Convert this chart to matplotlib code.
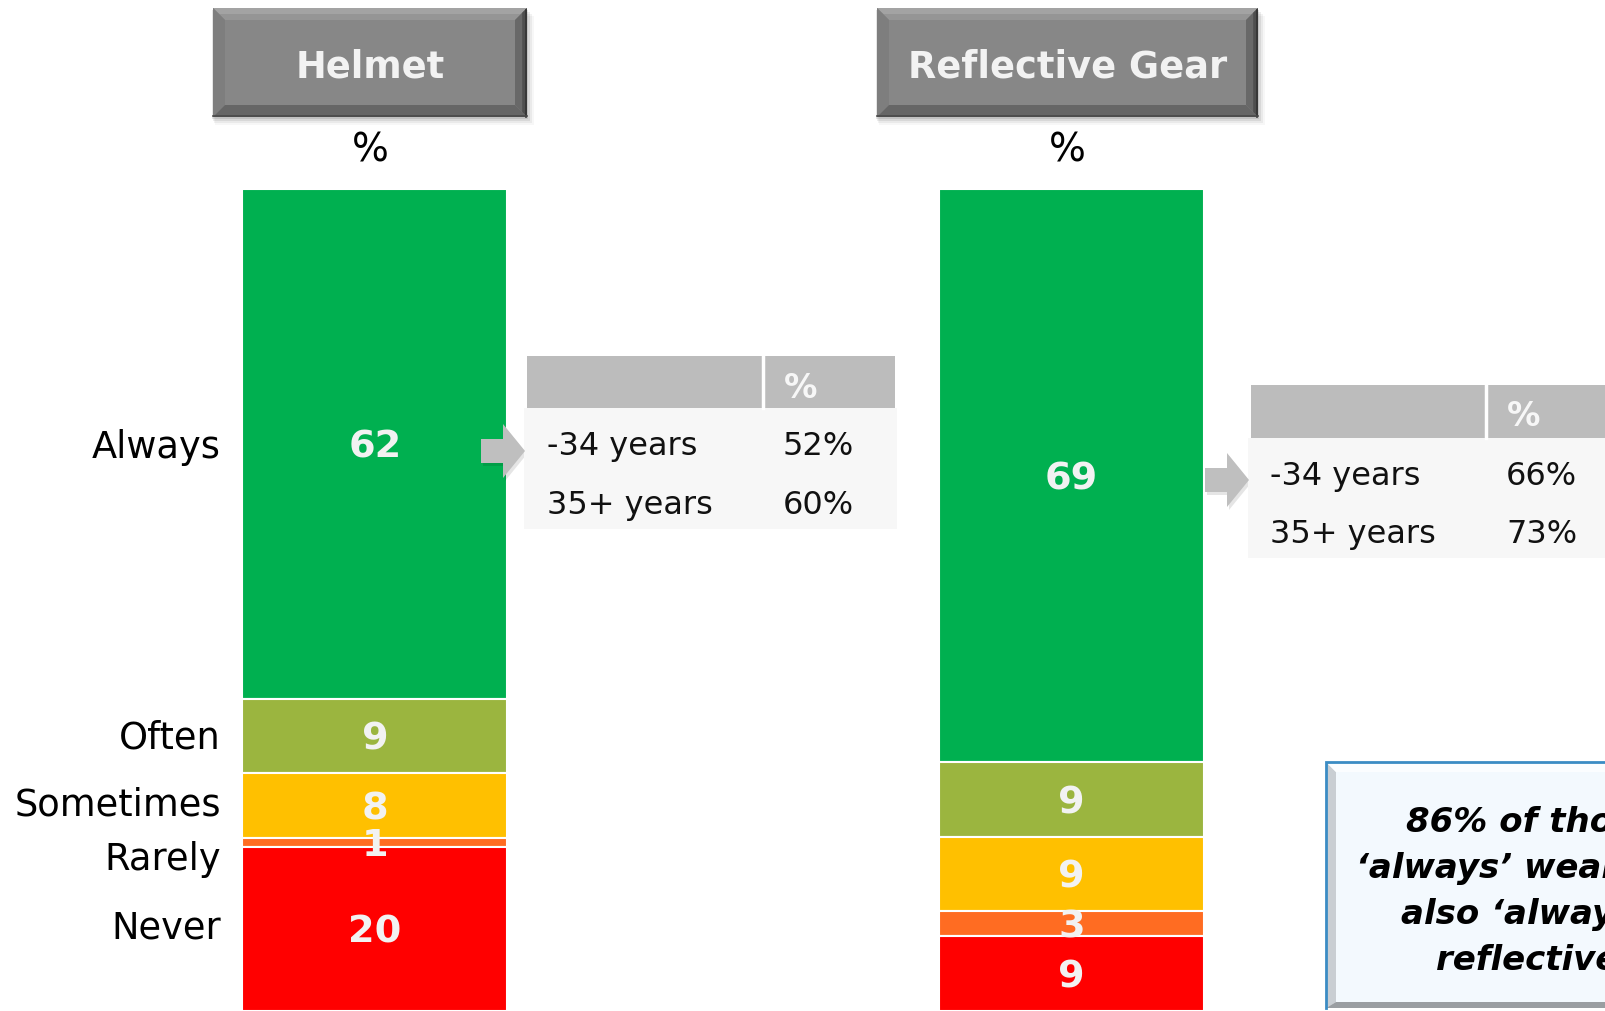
import matplotlib
matplotlib.use('Agg')
import matplotlib.pyplot as plt
from matplotlib.patches import Rectangle, Polygon
from matplotlib.transforms import ScaledTranslation
import numpy as np

# ---------------- data ----------------
categories = ['Always', 'Often', 'Sometimes', 'Rarely', 'Never']
groups = ['Helmet', 'Reflective Gear']
helmet = [62, 9, 8, 1, 20]
reflective = [69, 9, 9, 3, 9]
seg_colors = ['#00B050', '#9BB53F', '#FFC000', '#FF6C22', '#FF0000']

table_rows = ['-34 years', '35+ years']
helmet_age = ['52%', '60%']
reflective_age = ['66%', '73%']
table_header = '%'
callout_lines = ['86% of those who', '\u2018always\u2019 wear a helmet',
                 'also \u2018always\u2019 wear', 'reflective gear']

# ---------------- figure ----------------
W, H = 1606, 1011
DPI = 100
fig = plt.figure(figsize=(W / DPI, H / DPI), dpi=DPI)
fig.patch.set_facecolor('white')

BAR_TOP = 189
bx = fig.add_axes([0, 0, 1, (H - BAR_TOP) / H])
bx.set_xlim(0, W)
bx.set_ylim(0, 100)
bx.axis('off')
bx.patch.set_alpha(0)

# overlay axes in pixel coordinates (y downward) for decorations, on top
ov = fig.add_axes([0, 0, 1, 1])
ov.set_xlim(0, W)
ov.set_ylim(H, 0)
ov.axis('off')
ov.patch.set_alpha(0)

# ---------------- header boxes ----------------
def bevel_box(x0, y0, x1, y1, b=12):
    for i, a in enumerate([0.10, 0.07, 0.05, 0.03]):
        d = 2 + i * 2
        ov.add_patch(Rectangle((x0 - 1 + i, y0 + d), (x1 - x0) + 2 + i, (y1 - y0),
                               fc='#000000', ec='none', alpha=a, zorder=1))
    ov.add_patch(Rectangle((x0, y0), x1 - x0, y1 - y0, fc='#878787', ec='none', zorder=2))
    ov.add_patch(Polygon([(x0, y0), (x1, y0), (x1 - b, y0 + b), (x0 + b, y0 + b)],
                         closed=True, fc='#959595', ec='none', zorder=3))
    ov.add_patch(Polygon([(x0, y0), (x1, y0), (x1 - b * 0.55, y0 + b * 0.5), (x0 + b * 0.55, y0 + b * 0.5)],
                         closed=True, fc='#A3A3A3', ec='none', zorder=3))
    ov.add_patch(Polygon([(x0, y0), (x0 + b, y0 + b), (x0 + b, y1 - b), (x0, y1)],
                         closed=True, fc='#7E7E7E', ec='none', zorder=3))
    ov.add_patch(Polygon([(x1, y0), (x1, y1), (x1 - b, y1 - b), (x1 - b, y0 + b)],
                         closed=True, fc='#686868', ec='none', zorder=3))
    ov.add_patch(Polygon([(x1, y0), (x1, y1), (x1 - b * 0.4, y1 - b * 0.4), (x1 - b * 0.4, y0 + b * 0.4)],
                         closed=True, fc='#4E4E4E', ec='none', zorder=3))
    ov.add_patch(Polygon([(x0, y1), (x1, y1), (x1 - b, y1 - b), (x0 + b, y1 - b)],
                         closed=True, fc='#666666', ec='none', zorder=3))
    ov.plot([x1 - 1, x1 - 1], [y0 + 2, y1], color='#333333', lw=1.2, zorder=4)
    ov.plot([x0, x1], [y1 - 1, y1 - 1], color='#4A4A4A', lw=1.2, zorder=4)

header_boxes = [(213, 8, 527, 117), (877, 8, 1258, 117)]
for name, (x0, y0, x1, y1) in zip(groups, header_boxes):
    bevel_box(x0, y0, x1, y1)
    cx = (x0 + x1) / 2
    ov.text(cx, 78, name, ha='center', va='baseline', fontsize=26.5,
            fontweight='bold', color='#F2F2F2', zorder=5)
    ov.text(cx, 162, '%', ha='center', va='baseline', fontsize=28, color='black', zorder=5)

# ---------------- stacked bars ----------------
bar_x = [375, 1071.5]
bar_w = 265
series = [helmet, reflective]

val_shift = ScaledTranslation(0, -13.8 / DPI, fig.dpi_scale_trans)

centers_store = []
for xi, vals in zip(bar_x, series):
    vals = np.array(vals, dtype=float)
    pct = vals / vals.sum() * 100.0
    tops = 100.0 - np.concatenate([[0], np.cumsum(pct)[:-1]])
    bottoms = tops - pct
    bx.bar([xi] * len(pct), pct, width=bar_w, bottom=bottoms, color=seg_colors,
           edgecolor='white', linewidth=1.5, zorder=2)
    centers = bottoms + pct / 2
    centers_store.append(centers)
    for v, c in zip(vals, centers):
        bx.text(xi, c, f'{int(v)}', ha='center', va='baseline', fontsize=27.5,
                fontweight='bold', color='#F2F2F2', zorder=4,
                transform=bx.transData + val_shift)

# category labels beside the helmet bar
label_dy_px = [1, -1, -3, 14, -4]
for cat, c, dy in zip(categories, centers_store[0], label_dy_px):
    tr = bx.transData + ScaledTranslation(0, -(13.4 + dy) / DPI, fig.dpi_scale_trans)
    bx.text(221, c, cat, ha='right', va='baseline', fontsize=26.5, color='black',
            transform=tr)

# ---------------- arrows ----------------
def arrow(x0, yc, shaft_len=22, head_len=22, shaft_h=12, head_h=27):
    pts = [(x0, yc - shaft_h), (x0 + shaft_len, yc - shaft_h), (x0 + shaft_len, yc - head_h),
           (x0 + shaft_len + head_len, yc), (x0 + shaft_len, yc + head_h),
           (x0 + shaft_len, yc + shaft_h), (x0, yc + shaft_h)]
    sh = [(x + 2, y + 3) for x, y in pts]
    ov.add_patch(Polygon(sh, closed=True, fc='#000000', alpha=0.10, ec='none', zorder=2))
    ov.add_patch(Polygon(pts, closed=True, fc='#BFBFBF', ec='none', zorder=3))

arrow(481, 451)
arrow(1205, 480)

# ---------------- tables ----------------
def table(hx0, hy0, hy1, x1, div, body_y1, label_x, val_x, base1, base2, hbase, values):
    ov.add_patch(Rectangle((hx0 - 3, hy1), x1 - hx0 + 5, body_y1 - hy1,
                           fc='#F7F7F7', ec='none', zorder=2))
    ov.add_patch(Rectangle((hx0, hy0), x1 - hx0, hy1 - hy0, fc='#BCBCBC', ec='none', zorder=2))
    ov.plot([div, div], [hy0, hy1], color='white', lw=2.5, zorder=3)
    ov.text(val_x + 1, hbase, table_header, ha='left', va='baseline', fontsize=24,
            fontweight='bold', color='#F7F7F7', zorder=4)
    for lab, v, b in zip(table_rows, values, [base1, base2]):
        ov.text(label_x, b, lab, ha='left', va='baseline', fontsize=23, color='#111111', zorder=4)
        ov.text(val_x, b, v, ha='left', va='baseline', fontsize=23, color='#111111', zorder=4)

table(527, 356, 408, 895, 763, 529, 547, 783, 455, 514, 398, helmet_age)
table(1251, 385, 438, 1620, 1486, 558, 1270, 1506, 485, 543, 426, reflective_age)

# ---------------- callout box ----------------
cx0, cy0, cx1, cy1 = 1326, 762, 1840, 1008
ov.add_patch(Rectangle((cx0, cy0), cx1 - cx0, cy1 - cy0, fc='#F3F9FE', ec='none', zorder=2))
ov.add_patch(Polygon([(cx0, cy0), (cx0 + 10, cy0 + 10), (cx0 + 10, cy1 - 6), (cx0, cy1)],
                     closed=True, fc='#C9CED3', ec='none', zorder=3))
ov.add_patch(Polygon([(cx0, cy0), (cx1, cy0), (cx1, cy0 + 10), (cx0 + 10, cy0 + 10)],
                     closed=True, fc='#FBFDFF', ec='none', zorder=3))
ov.add_patch(Polygon([(cx0, cy1), (cx1, cy1), (cx1, cy1 - 6), (cx0 + 10, cy1 - 6)],
                     closed=True, fc='#9A9EA2', ec='none', zorder=3))
ov.plot([cx0, cx0, cx1], [cy1, cy0, cy0], color='#3B8CC4', lw=2, zorder=4,
        solid_joinstyle='miter')
for i, line in enumerate(callout_lines):
    ov.text(1577, 832 + 46 * i, line, ha='center', va='baseline', fontsize=24.5,
            fontweight='bold', fontstyle='italic', color='black', zorder=5)

fig.savefig('out.png', dpi=DPI, facecolor='white')
